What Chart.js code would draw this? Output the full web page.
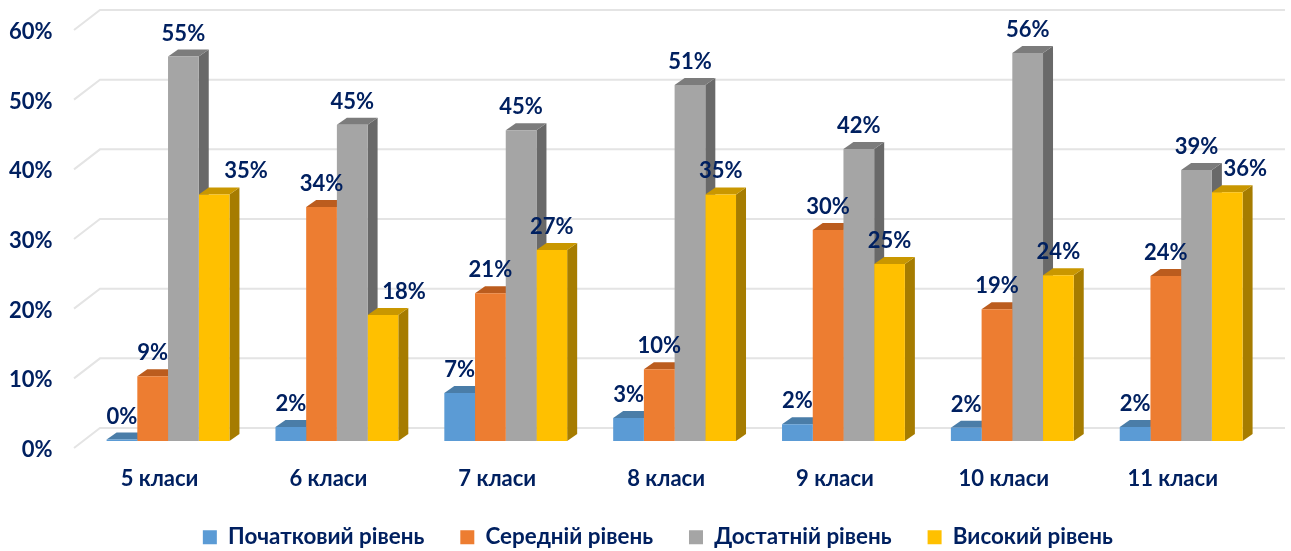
<!DOCTYPE html>
<html>
<head>
<meta charset="utf-8">
<style>
  html, body { margin: 0; padding: 0; background: #fff; }
  canvas { display: block; }
</style>
</head>
<body>
<canvas id="myChart" width="1291" height="551"></canvas>
<script src="https://cdn.jsdelivr.net/npm/chart.js@4"></script>
<script>
const categories = ["5 класи", "6 класи", "7 класи", "8 класи", "9 класи", "10 класи", "11 класи"];
const seriesNames = ["Початковий рівень", "Середній рівень", "Достатній рівень", "Високий рівень"];
const initialLevel = [0.2, 2.0, 6.9, 3.3, 2.4, 1.9, 2.0];
const middleLevel = [9.3, 33.6, 21.2, 10.3, 30.3, 18.9, 23.7];
const sufficientLevel = [55.2, 45.4, 44.6, 51.1, 41.9, 55.7, 38.9];
const highLevel = [35.4, 18.1, 27.4, 35.4, 25.4, 23.8, 35.7];
const yTicks = [0, 10, 20, 30, 40, 50, 60];

const textColor = "#002060";
const fontFamily = "Lato, 'Open Sans', sans-serif";
const fontSize = 22;
const frontColors = ["#5b9bd5", "#ed7d31", "#a5a5a5", "#ffc000"];
const sideColors = ["#3f77aa", "#ad5a22", "#696969", "#a67c00"];
const topColors = ["#4a7da8", "#bb5c1e", "#7c7c7c", "#c99700"];
const depthX = 10;
const depthY = 7;

// some labels were moved by hand in the original so they do not touch the next bar
const labelNudge = { "3-0": 32, "3-1": 21, "3-6": 18 };

const bars3d = {
  id: "bars3d",
  beforeInit(chart) {
    // legend padding is used for both gap and height, keep the height small
    const fit = chart.legend.fit;
    chart.legend.fit = function () {
      fit.call(this);
      this.height = 40;
    };
  },
  afterLayout(chart) {
    chart.legend.left += 25;
    chart.legend.right += 25;
    chart.legend.top = 490;
  },
  beforeDatasetsDraw(chart) {
    const { ctx, scales } = chart;
    ctx.save();
    // back wall lines with the short diagonal on the left
    ctx.strokeStyle = "#e4e4e4";
    ctx.lineWidth = 2;
    yTicks.forEach((t) => {
      const y = scales.y.getPixelForValue(t);
      ctx.beginPath();
      ctx.moveTo(74, y + 7);
      ctx.lineTo(100, y - 13);
      ctx.lineTo(1285, y - 13);
      ctx.stroke();
    });
    // sides and tops go under all the fronts, left bar first
    chart.data.datasets.forEach((ds, i) => {
      chart.getDatasetMeta(i).data.forEach((bar) => {
        const left = bar.x - bar.width / 2;
        const right = bar.x + bar.width / 2;
        ctx.fillStyle = sideColors[i];
        ctx.beginPath();
        ctx.moveTo(right, bar.base);
        ctx.lineTo(right + depthX, bar.base - depthY);
        ctx.lineTo(right + depthX, bar.y - depthY);
        ctx.lineTo(right, bar.y);
        ctx.fill();
        ctx.fillStyle = topColors[i];
        ctx.beginPath();
        ctx.moveTo(left, bar.y);
        ctx.lineTo(left + depthX, bar.y - depthY);
        ctx.lineTo(right + depthX, bar.y - depthY);
        ctx.lineTo(right, bar.y);
        ctx.fill();
      });
    });
    ctx.restore();
  },
  afterDatasetsDraw(chart) {
    const { ctx } = chart;
    ctx.save();
    ctx.fillStyle = textColor;
    ctx.font = "bold " + fontSize + "px " + fontFamily;
    ctx.textAlign = "center";
    ctx.textBaseline = "middle";
    chart.data.datasets.forEach((ds, i) => {
      chart.getDatasetMeta(i).data.forEach((bar, j) => {
        const dx = labelNudge[i + "-" + j] || 0;
        ctx.fillText(Math.round(ds.data[j]) + "%", bar.x + dx, bar.y - 23);
      });
    });
    ctx.restore();
  },
};

const allSeries = [initialLevel, middleLevel, sufficientLevel, highLevel];

new Chart(document.getElementById("myChart"), {
  type: "bar",
  data: {
    labels: categories,
    datasets: allSeries.map((values, i) => ({
      label: seriesNames[i],
      data: values,
      backgroundColor: frontColors[i],
    })),
  },
  options: {
    responsive: false,
    animation: false,
    layout: { padding: { top: 23, right: 25.4, left: 0, bottom: 0 } },
    datasets: { bar: { barPercentage: 1, categoryPercentage: 0.7275 } },
    scales: {
      x: {
        grid: { display: false, drawTicks: false },
        border: { display: false },
        ticks: {
          color: textColor,
          font: { family: fontFamily, size: fontSize, weight: "bold" },
          padding: 25,
          labelOffset: -8.5,
          maxRotation: 0,
          autoSkip: false,
        },
        afterFit(s) {
          s.height = 70;
        },
      },
      y: {
        min: 0,
        max: 60,
        grid: { display: false, drawTicks: false },
        border: { display: false },
        afterBuildTicks(s) {
          s.ticks = yTicks.map((v) => ({ value: v }));
        },
        ticks: {
          color: textColor,
          font: { family: fontFamily, size: fontSize, weight: "bold" },
          padding: 31,
          labelOffset: 9,
          callback: (v) => v + "%",
        },
        afterFit(s) {
          // tick padding also ends up as vertical padding, drop it
          s.width = 83.6;
          s.paddingTop = 0;
          s.paddingBottom = 0;
        },
      },
    },
    plugins: {
      tooltip: { enabled: false },
      legend: {
        position: "bottom",
        labels: {
          color: textColor,
          font: { family: fontFamily, size: 22.4, weight: "bold" },
          boxWidth: 14,
          boxHeight: 14,
          padding: 36,
        },
      },
    },
  },
  plugins: [bars3d],
});
</script>
</body>
</html>
